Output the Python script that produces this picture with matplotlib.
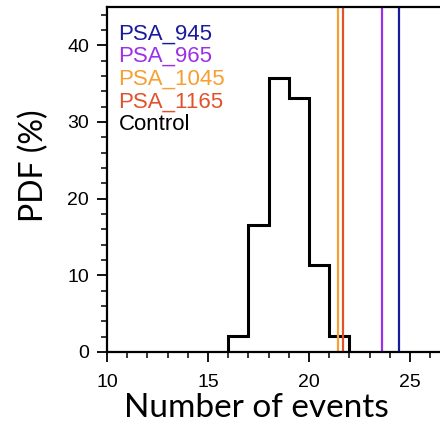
import matplotlib
matplotlib.use("Agg")
import matplotlib.pyplot as plt
from matplotlib.ticker import MultipleLocator

bin_edges = [16, 17, 18, 19, 20, 21, 22]
control_pdf = [2.1, 16.6, 35.8, 33.1, 11.3, 2.1]
exp_names = ["PSA_945", "PSA_965", "PSA_1045", "PSA_1165"]
exp_values = [24.47, 23.6, 21.45, 21.67]
exp_colors = ["#1a1a9c", "#9b30e8", "#f5a030", "#e0522e"]

fig = plt.figure(figsize=(4.4, 4.3), dpi=100)
xmin, xmax = 10, 27.2
ppu = 20.2
left = 107 / 440
bottom = 1 - 352 / 430
top = 1 - 7 / 430
ax = fig.add_axes([left, bottom, (xmax - xmin) * ppu / 440, top - bottom])

ax.stairs(control_pdf, bin_edges, color="black", lw=2.2)
for v, c in zip(exp_values, exp_colors):
    ax.axvline(v, color=c, lw=1.6)

ax.set_xlim(xmin, xmax)
ax.set_ylim(0, 45)
ax.xaxis.set_major_locator(MultipleLocator(5))
ax.xaxis.set_minor_locator(MultipleLocator(1))
ax.yaxis.set_major_locator(MultipleLocator(10))
ax.yaxis.set_minor_locator(MultipleLocator(2))
ax.tick_params(which="major", direction="out", length=7, width=1.3, labelsize=14)
ax.tick_params(axis="y", which="major", pad=6)
ax.tick_params(axis="x", which="major", pad=9)
ax.tick_params(which="minor", direction="out", length=4, width=1.1)
for lab in ax.get_xticklabels() + ax.get_yticklabels():
    lab.set_family(["Liberation Sans", "DejaVu Sans"])
for s in ax.spines.values():
    s.set_linewidth(1.6)

ax.set_xlabel("Number of events", fontsize=24, family=["Lato", "DejaVu Sans"], labelpad=1)
ax.set_ylabel("PDF (%)", fontsize=23, family=["Lato", "DejaVu Sans"], labelpad=13)
ax.xaxis.label.set_x(0.429)
ax.yaxis.label.set_y(0.54)

labels = exp_names + ["Control"]
colors = exp_colors + ["black"]
for i, (t, c) in enumerate(zip(labels, colors)):
    ax.text(0.033, 0.922 - i * 0.0655, t, color=c, transform=ax.transAxes,
            fontsize=16, family=["Liberation Sans", "DejaVu Sans"], va="center", ha="left")

fig.savefig("out.png", dpi=100)
